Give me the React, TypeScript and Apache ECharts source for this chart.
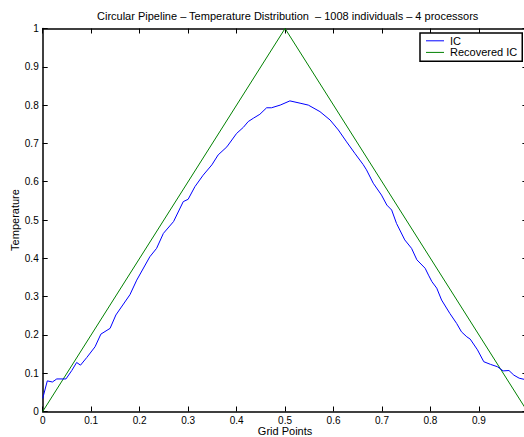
import React, { useEffect, useRef } from "react";
import * as echarts from "echarts";

const titleText = "Circular Pipeline \u2013 Temperature Distribution  \u2013 1008 individuals \u2013 4 processors";
const seriesNames = ["IC", "Recovered IC"];
const xTicks = [0, 0.1, 0.2, 0.3, 0.4, 0.5, 0.6, 0.7, 0.8, 0.9];

const icX = [
  0, 0.0095, 0.02, 0.029, 0.048, 0.06, 0.07, 0.078, 0.091, 0.108, 0.12, 0.139, 0.151, 0.18, 0.194,
  0.221, 0.235, 0.249, 0.27, 0.29, 0.3, 0.314, 0.331, 0.349, 0.362, 0.38, 0.4, 0.414, 0.424, 0.435,
  0.448, 0.462, 0.472, 0.49, 0.51, 0.531, 0.548, 0.572, 0.593, 0.61, 0.627, 0.644, 0.661, 0.668,
  0.682, 0.699, 0.71, 0.72, 0.73, 0.747, 0.761, 0.772, 0.789, 0.796, 0.803, 0.813, 0.823, 0.84,
  0.854, 0.864, 0.875, 0.882, 0.897, 0.91, 0.924, 0.938, 0.95, 0.962, 0.972, 0.983, 0.993, 1.0,
];
const icY = [
  0.034, 0.08, 0.077, 0.085, 0.085, 0.107, 0.128, 0.121, 0.141, 0.169, 0.202, 0.217, 0.252, 0.305, 0.343,
  0.404, 0.426, 0.465, 0.496, 0.548, 0.554, 0.587, 0.617, 0.644, 0.67, 0.691, 0.726, 0.742, 0.757, 0.766,
  0.776, 0.793, 0.793, 0.8, 0.811, 0.805, 0.8, 0.783, 0.761, 0.735, 0.704, 0.674, 0.645, 0.631,
  0.596, 0.565, 0.539, 0.526, 0.491, 0.448, 0.426, 0.396, 0.374, 0.356, 0.339, 0.322, 0.291, 0.256,
  0.23, 0.208, 0.195, 0.189, 0.161, 0.13, 0.123, 0.117, 0.106, 0.107, 0.095, 0.087, 0.084, 0.082,
];

const recX = [0, 0.5, 1];
const recY = [0, 1, 0];

const FONT = "'Liberation Sans', Arial, Helvetica, sans-serif";

export default function App() {
  const ref = useRef<HTMLDivElement>(null);
  useEffect(() => {
    if (!ref.current) return;
    const chart = echarts.init(ref.current, undefined, { renderer: "svg" });
    const axisCommon = {
      type: "value" as const,
      min: 0,
      max: 1,
      interval: 0.1,
      splitLine: { show: false },
      axisLine: { show: true, onZero: false, lineStyle: { color: "#000", width: 1.5 } },
      axisTick: { show: true, inside: true, length: 5, lineStyle: { color: "#000", width: 1 } },
    };
    chart.setOption({
      animation: false,
      backgroundColor: "#fff",
      textStyle: { fontFamily: FONT },
      title: {
        text: titleText,
        left: 97,
        top: 10,
        padding: 0,
        textStyle: { fontSize: 11, fontWeight: "normal", color: "#000", fontFamily: FONT },
      },
      legend: {
        data: seriesNames,
        orient: "vertical",
        left: 420,
        top: 33,
        padding: [2, 5, 3, 6],
        itemGap: 0,
        itemWidth: 18,
        itemHeight: 1,
        icon: "rect",
        borderColor: "#000",
        borderWidth: 1.5,
        backgroundColor: "#fff",
        textStyle: { fontSize: 11, color: "#000", fontFamily: FONT, lineHeight: 11.6, padding: [0, 0, 0, 1] },
      },
      grid: {
        left: 42.7,
        top: 28.5,
        right: -3.4,
        bottom: 25.5,
        containLabel: false,
        outerBoundsMode: "none",
      },
      xAxis: [
        {
          ...axisCommon,
          position: "bottom",
          name: "Grid Points",
          nameLocation: "middle",
          nameGap: 14,
          nameMoveOverlap: false,
          nameTextStyle: { fontSize: 11, color: "#000", fontFamily: FONT },
          axisLabel: {
            show: true,
            margin: 4,
            fontSize: 10,
            color: "#000",
            fontFamily: FONT,
            formatter: (v: number) => {
              const t = xTicks.find((k) => Math.abs(k - v) < 1e-9);
              return t === undefined ? "" : String(t);
            },
          },
        },
        {
          ...axisCommon,
          position: "top",
          axisLabel: { show: false },
        },
      ],
      yAxis: [
        {
          ...axisCommon,
          position: "left",
          name: "Temperature",
          nameLocation: "middle",
          nameGap: 22,
          nameMoveOverlap: false,
          nameTextStyle: { fontSize: 11, color: "#000", fontFamily: FONT },
          axisLabel: { show: true, margin: 4, fontSize: 10, color: "#000", fontFamily: FONT },
        },
        {
          ...axisCommon,
          position: "right",
          axisLabel: { show: false },
        },
      ],
      series: [
        {
          name: seriesNames[0],
          type: "line",
          data: icX.map((x, i) => [x, icY[i]]),
          showSymbol: false,
          symbol: "none",
          smooth: false,
          lineStyle: { color: "#0000ff", width: 1 },
          itemStyle: { color: "#0000ff" },
          z: 3,
        },
        {
          name: seriesNames[1],
          type: "line",
          data: recX.map((x, i) => [x, recY[i]]),
          showSymbol: false,
          symbol: "none",
          lineStyle: { color: "#008000", width: 1 },
          itemStyle: { color: "#008000" },
          z: 2,
        },
      ],
    });
    return () => chart.dispose();
  }, []);
  return (
    <div
      ref={ref}
      style={{ position: "fixed", left: 0, top: 0, width: 524, height: 437, background: "#fff" }}
    />
  );
}
